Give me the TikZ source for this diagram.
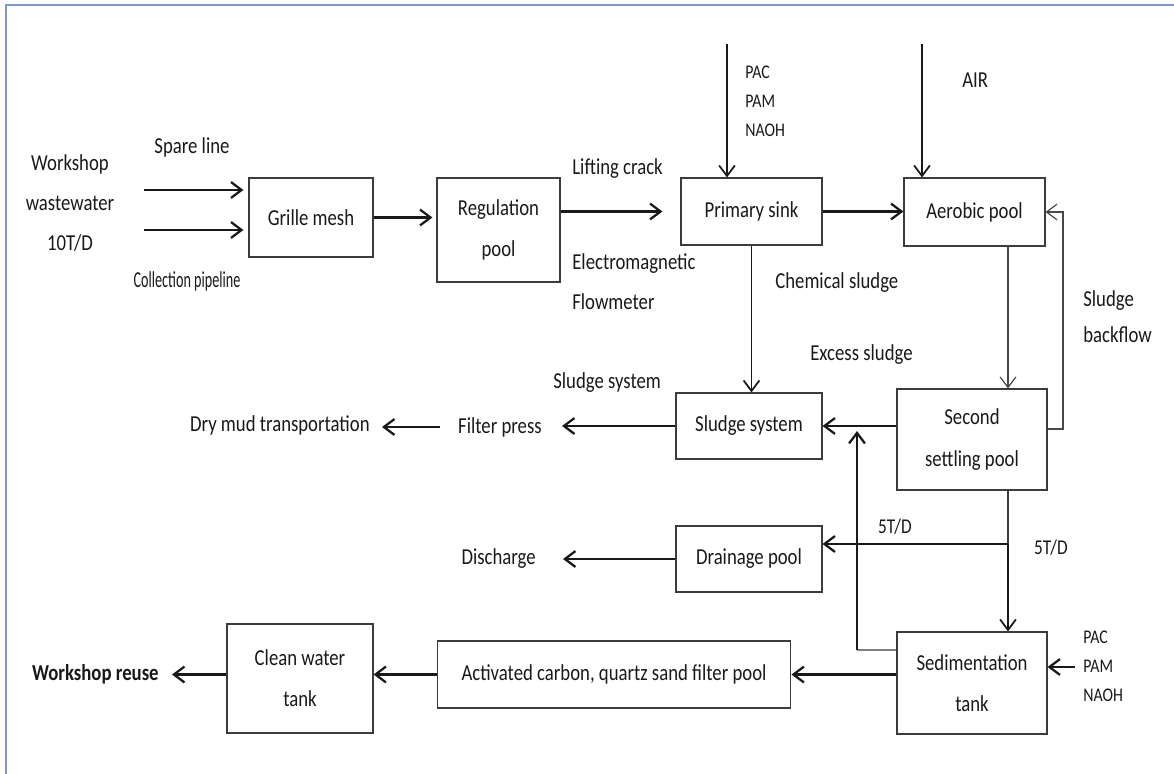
\documentclass[tikz,border=0pt]{standalone}
\usepackage{fontspec}
\setmainfont{Carlito}[FakeStretch=0.82]
\newfontfamily\narrowfont{Carlito}[FakeStretch=0.62]
\usepackage{tikz}
\usetikzlibrary{positioning}
\usetikzlibrary{arrows.meta}

\definecolor{framecolor}{RGB}{120,152,204}
\definecolor{ink}{RGB}{25,25,25}

\begin{document}
\begin{tikzpicture}[
                x = 0.02cm,
                y = -0.02cm,
                box/.style = {
                    draw = ink!85,
                    line width = 0.6pt,
                    minimum width = #1,
                    inner sep = 0pt,
                    align = center,
                    text = ink,
                    font = \fontsize{13pt}{23.5pt}\selectfont
                },
                box/.default = 2.92cm,
                txt/.style = {
                    inner sep = 0pt,
                    text = ink,
                    font = \fontsize{13pt}{23pt}\selectfont
                },
                small/.style = {
                    inner sep = 0pt,
                    align = left,
                    text = ink,
                    font = \fontsize{11pt}{16.4pt}\selectfont
                },
                flow/.style = {
                    draw = ink,
                    line width = 1.3pt,
                    -{Straight Barb[length=6pt,width=9pt]}
                },
                thinflow/.style = {
                    draw = ink!80,
                    line width = 0.7pt,
                    -{Straight Barb[length=6pt,width=9pt]}
                },
                plainline/.style = {draw = ink!85, line width = 0.8pt}
            ]
            \useasboundingbox (0,0) rectangle (1174,774);
            \draw[framecolor, line width = 1pt] (6,774) -- (6,5) -- (1174,5);
            %
            % process boxes
            \node[box=2.48cm, minimum height=1.58cm] (grille) at (311,217.5) {Grille mesh};
            \node[box=2.46cm, minimum height=2.08cm] (regulation) at (498.5,230) {Regulation\\pool};
            \node[box=2.82cm, minimum height=1.34cm] (primary) at (751.5,211.5) {Primary sink};
            \node[box=2.82cm, minimum height=1.36cm] (aerobic) at (974.5,212) {Aerobic pool};
            \node[box=3cm, minimum height=2.02cm] (second) at (972,439.5) {Second\\settling pool};
            \node[box, minimum height=1.32cm] (sludge) at (749,426) {Sludge system};
            \node[box, minimum height=1.32cm] (drainage) at (749,559) {Drainage pool};
            \node[box=3cm, minimum height=2.04cm] (sediment) at (972,683) {Sedimentation\\tank};
            \node[box=7.08cm, minimum height=1.34cm] (carbon) at (614,674.5) {Activated carbon, quartz sand filter pool};
            \node[box, minimum height=2.18cm] (clean) at (300,678.5) {Clean water\\tank};
            %
            % labels
            \node[txt, align=center] (source) at (70,203) {Workshop\\wastewater\\10T/D};
            \node[txt] (spare) at (192,147) {Spare line};
            \node[txt, font=\narrowfont\fontsize{13pt}{15pt}\selectfont] (collect) at (187,281) {Collection pipeline};
            \node[txt, anchor=west] (lifting) at (572,169) {Lifting crack};
            \node[txt, anchor=west, align=left] (meter) at (572,281.5) {Electromagnetic\\Flowmeter};
            \node[small, anchor=west] (chemtxt) at (745,101) {PAC\\PAM\\NAOH};
            \node[txt, anchor=west] (air) at (962,80) {AIR};
            \node[txt, anchor=west] (chemsludge) at (775,283) {Chemical sludge};
            \node[txt, anchor=west] (excess) at (810,355) {Excess sludge};
            \node[txt, anchor=west] (sludgelbl) at (553,383) {Sludge system};
            \node[txt, anchor=west, align=left, font=\fontsize{13pt}{20.4pt}\selectfont] (backflow) at (1083,317) {Sludge\\backflow};
            \node[txt, font=\fontsize{12pt}{14pt}\selectfont] (rateleft) at (895,527) {5T/D};
            \node[txt, font=\fontsize{12pt}{14pt}\selectfont] (rateright) at (1051,548) {5T/D};
            \node[txt, anchor=east] (press) at (542,427) {Filter press};
            \node[txt, anchor=east] (drymud) at (370,425) {Dry mud transportation};
            \node[txt, anchor=east] (discharge) at (536,559) {Discharge};
            \node[txt, anchor=east, font=\bfseries\fontsize{13pt}{23pt}\selectfont] (reuse) at (159,674) {Workshop reuse};
            \node[small, anchor=west] (chemtxtb) at (1083,666) {PAC\\PAM\\NAOH};
            %
            % free ends and bends
            \coordinate (inone) at (144,190);
            \coordinate (intwo) at (144,230);
            \coordinate (chemtop) at (727,44);
            \coordinate (airtop) at (922,44);
            \coordinate (downx) at (1008,0);
            \coordinate (junc) at (1008,544);
            \coordinate (bfx) at (1063,0);
            \coordinate (upx) at (857,0);
            \coordinate (upfoot) at (857,650);
            \coordinate (chemright) at (1075,667);
            %
            % main line
            \draw[flow, shorten >=0.1cm] (inone) -- (inone -| grille.west);
            \draw[flow, shorten >=0.1cm] (intwo) -- (intwo -| grille.west);
            \draw[flow, shorten >=0.08cm] (grille.east) -- (grille.east -| regulation.west);
            \draw[flow, shorten >=0.36cm] (regulation.east |- primary.west) -- (primary.west);
            \draw[flow] (primary.east) -- (primary.east -| aerobic.west);
            \draw[flow, line width=1pt] (chemtop) -- (chemtop |- primary.north);
            \draw[flow, line width=1pt] (airtop) -- (airtop |- aerobic.north);
            \draw[flow, line width=1pt] (primary.south) -- (primary.south |- sludge.north);
            \draw[thinflow] (aerobic.south -| downx) -- (second.north -| downx);
            \draw[thinflow] ([yshift=0.21cm]second.east) -| (bfx |- aerobic.east) -- (aerobic.east);
            %
            % sludge line
            \draw[flow] (second.west |- sludge.east) -- (sludge.east);
            \draw[flow, shorten >=0.4cm] (sludge.west) -- (sludge.west -| press.east);
            \draw[flow, shorten <=0.36cm, shorten >=0.24cm] (press.west) -- (press.west -| drymud.east);
            \draw[plainline] ([yshift=0.66cm]sediment.west) -- (upfoot);
            \draw[flow] (upfoot) -- ([yshift=-0.1cm]upx |- sludge.east);
            %
            % water line
            \draw[plainline] (second.south -| downx) -- (junc);
            \draw[flow, line width=1pt] (junc) -- (junc |- sediment.north);
            \draw[flow] (junc) -- (junc -| drainage.east);
            \draw[flow, shorten >=0.54cm] (drainage.west) -- (drainage.west -| discharge.east);
            \draw[flow] (sediment.west |- carbon.east) -- (carbon.east);
            \draw[flow] (carbon.west) -- (carbon.west -| clean.east);
            \draw[flow, shorten >=0.26cm] (carbon.west -| clean.west) -- (carbon.west -| reuse.east);
            \draw[flow] (chemright) -- (chemright -| sediment.east);
            %
        \end{tikzpicture}
\end{document}
